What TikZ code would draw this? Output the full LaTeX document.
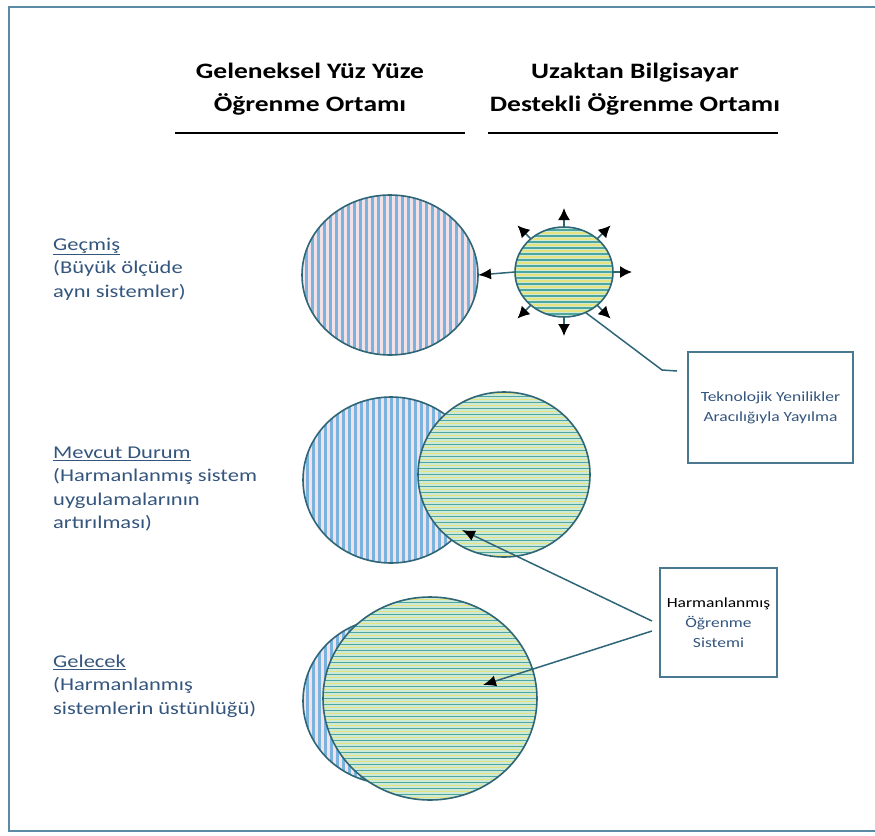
\documentclass[tikz,border=0pt]{standalone}
\usepackage{fontspec}
\setmainfont{Carlito}[FakeStretch=1.25]
\usetikzlibrary{arrows.meta,calc,shapes.geometric}

\definecolor{framecol}{HTML}{5B8AA6}
\definecolor{circline}{HTML}{2E6577}
\definecolor{boxline}{HTML}{4A7890}
\definecolor{labeltext}{HTML}{34557D}
\definecolor{bluebg}{HTML}{F2E2E8}
\definecolor{stripeblue}{HTML}{79B3DE}
\definecolor{greenbg}{HTML}{CDE9D8}
\definecolor{stripeteal}{HTML}{4FA69C}
\definecolor{stripeyellow}{HTML}{E6E27E}

\tikzset{
  trad/.style={ellipse, draw=circline, line width=1.6pt, inner sep=0pt, outer sep=0pt, fill=bluebg,
    path picture={\foreach \i in {-120,-114,...,120}
      \draw[stripeblue, line width=3pt] ($(path picture bounding box.center)+(\i,-130)$) -- ++(0,260);}},
  online/.style={ellipse, draw=circline, line width=1.6pt, inner sep=0pt, outer sep=0pt, fill=greenbg,
    path picture={\foreach \i in {-126,-120,...,126}{
      \draw[stripeteal, line width=1.6pt] ($(path picture bounding box.center)+(-130,\i)$) -- ++(260,0);
      \draw[stripeyellow, line width=1.9pt] ($(path picture bounding box.center)+(-130,\i+3)$) -- ++(260,0);}}},
  heading/.style={align=center, inner sep=0pt, font=\bfseries\fontsize{22}{33}\selectfont},
  headrule/.style={line width=2pt},
  sidelabel/.style={anchor=west, align=left, inner sep=0pt, text=labeltext, font=\fontsize{18}{23.5}\selectfont},
  infobox/.style={draw=boxline, line width=2pt, align=center, inner sep=0pt, text=labeltext, font=\fontsize{14}{20}\selectfont},
  arr/.style={draw=circline, line width=1.5pt, -{Latex[length=13pt,width=11pt,color=black]}},
  ray/.style={draw=circline, line width=1.5pt, -{Latex[length=12pt,width=12pt,color=black]}},
  callout/.style={draw=circline, line width=1.5pt}
}

\begin{document}
\begin{tikzpicture}[x=1pt,y=-1pt]
  %%%%% START %%%%%
  \useasboundingbox (0,0) rectangle (875,835);
  \draw[framecol, line width=2.5pt] (875,7) -- (9,7) -- (9,831) -- (875,831);

  % column headings
  \node[heading] (tradhead) at (310,89) {Geleneksel Yüz Yüze\\Öğrenme Ortamı};
  \node[heading] (onlinehead) at (635,89) {Uzaktan Bilgisayar\\Destekli Öğrenme Ortamı};
  \draw[headrule] (175,133) -- (465,133);
  \draw[headrule] (488,133) -- (778,133);

  % row labels
  \node[sidelabel] (pastlbl) at (53,269) {\underline{Geçmiş}\\(Büyük ölçüde\\aynı sistemler)};
  \node[sidelabel] (nowlbl) at (53,489) {\underline{Mevcut Durum}\\(Harmanlanmış sistem\\uygulamalarının\\artırılması)};
  \node[sidelabel] (futlbl) at (53,686) {\underline{Gelecek}\\(Harmanlanmış\\sistemlerin üstünlüğü)};

  % past
  \node[trad, minimum width=176pt, minimum height=160pt] (trad1) at (390,275) {};
  \node[online, minimum width=98pt, minimum height=90pt] (online1) at (564,272) {};
  \draw[arr] (online1.west) -- (trad1.east);
  \foreach \a in {90,45,0,-45,-90,-135,135}
    \draw[ray] (online1.\a) -- ($(online1.\a)!-19pt!(online1.center)$);

  % present
  \node[trad, minimum width=176pt, minimum height=166pt] (trad2) at (391,480) {};
  \node[online, minimum width=172pt, minimum height=165pt] (online2) at (504,474.5) {};

  % future
  \node[trad, minimum width=176pt, minimum height=166pt] (trad3) at (391,701) {};
  \node[online, minimum width=214pt, minimum height=203pt] (online3) at (430,698.5) {};

  % boxes
  \node[infobox, minimum width=165pt, minimum height=111pt] (tekbox) at (770.5,407.5) {Teknolojik Yenilikler\\Aracılığıyla Yayılma};
  \node[infobox, minimum width=117pt, minimum height=109pt] (harbox) at (718.5,622.5) {\textcolor{black}{Harmanlanmış}\\Öğrenme\\Sistemi};

  \coordinate (bend1) at (662,370);
  \coordinate (end1) at (677,371);
  \draw[callout] (online1.-62) -- (bend1) -- (end1);

  \coordinate (from2) at (652,621);
  \coordinate (from3) at (652,631);
  \coordinate (tip2) at (462,530);
  \coordinate (tip3) at (483,685);
  \draw[arr] (from2) -- (tip2);
  \draw[arr] (from3) -- (tip3);
  %%%%% END %%%%%
\end{tikzpicture}
\end{document}
